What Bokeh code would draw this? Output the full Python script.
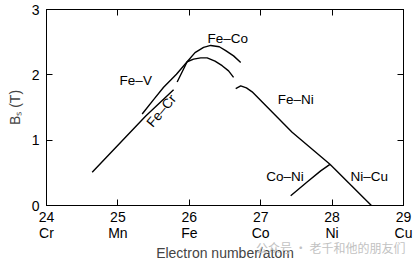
import math
from bokeh.plotting import figure
from bokeh.layouts import column
from bokeh.models import Range1d, FixedTicker, LinearAxis, Label, Div
from bokeh.embed import file_html
from bokeh.resources import INLINE

# ---- data ----
x_ticks = [24, 25, 26, 27, 28, 29]
x_tick_labels = ["24\nCr", "25\nMn", "26\nFe", "27\nCo", "28\nNi", "29\nCu"]
y_ticks = [0, 1, 2, 3]

fe_cr_x = [24.64, 25.39, 25.78]
fe_cr_y = [0.51, 1.37, 1.77]

fe_co_x = [25.83, 25.97, 26.08, 26.20, 26.30, 26.42, 26.51, 26.62, 26.72]
fe_co_y = [1.89, 2.20, 2.34, 2.42, 2.45, 2.43, 2.37, 2.29, 2.19]

fe_v_x = [25.34, 25.50, 25.64, 25.82, 25.97, 26.06, 26.16, 26.25, 26.36, 26.46, 26.55, 26.62]
fe_v_y = [1.40, 1.62, 1.81, 2.01, 2.20, 2.24, 2.26, 2.26, 2.21, 2.14, 2.06, 1.96]

fe_ni_x = [26.65, 26.72, 26.80, 26.88, 27.07, 27.44, 27.97]
fe_ni_y = [1.79, 1.83, 1.80, 1.74, 1.53, 1.12, 0.63]

ni_cu_x = [27.97, 28.55]
ni_cu_y = [0.63, 0.00]

co_ni_x = [27.42, 27.65, 27.84, 27.97]
co_ni_y = [0.15, 0.36, 0.53, 0.63]

FONT = "Liberation Sans"

p = figure(width=417, height=265, x_range=Range1d(24, 29), y_range=Range1d(0, 3),
           output_backend="svg", toolbar_location=None,
           min_border_left=46, min_border_right=14, min_border_top=9, min_border_bottom=60)
p.grid.visible = False
p.outline_line_color = "black"
p.outline_line_width = 1
p.background_fill_color = "white"
p.border_fill_color = "white"

# bottom axis
xa = p.xaxis[0]
xa.ticker = FixedTicker(ticks=x_ticks)
xa.major_label_overrides = {t: l for t, l in zip(x_ticks, x_tick_labels)}
xa.minor_tick_line_color = None
xa.major_tick_in = 6
xa.major_tick_out = 0
xa.major_label_standoff = 3
xa.major_label_text_font = FONT
xa.major_label_text_font_size = "14px"
xa.major_label_text_line_height = 1.0
xa.major_label_text_color = "black"
xa.axis_label = "Electron number/atom"
xa.axis_label_text_font = FONT
xa.axis_label_text_font_size = "14px"
xa.axis_label_text_font_style = "normal"
xa.axis_label_standoff = 1
xa.axis_line_color = "black"

# left axis
ya = p.yaxis[0]
ya.ticker = FixedTicker(ticks=y_ticks)
ya.minor_tick_line_color = None
ya.major_tick_in = 6
ya.major_tick_out = 0
ya.major_label_standoff = 7
ya.major_label_text_font = FONT
ya.major_label_text_font_size = "14px"
ya.major_label_text_color = "black"
ya.axis_line_color = "black"
ya.axis_label = "B\u209b (T)"
ya.axis_label_text_font = FONT
ya.axis_label_text_font_size = "14px"
ya.axis_label_text_font_style = "normal"
ya.axis_label_standoff = 6

# top and right axes (ticks only)
top = LinearAxis(ticker=FixedTicker(ticks=x_ticks), major_tick_in=6, major_tick_out=0,
                 minor_tick_line_color=None, major_label_standoff=0,
                 major_label_overrides={t: "" for t in x_ticks})
right = LinearAxis(ticker=FixedTicker(ticks=y_ticks), major_tick_in=6, major_tick_out=0,
                   minor_tick_line_color=None, major_label_standoff=0,
                   major_label_overrides={t: "" for t in y_ticks})
p.add_layout(top, "above")
p.add_layout(right, "right")

lw = 1.4
for xs, ys in [(fe_cr_x, fe_cr_y), (fe_co_x, fe_co_y), (fe_v_x, fe_v_y),
               (fe_ni_x, fe_ni_y), (ni_cu_x, ni_cu_y), (co_ni_x, co_ni_y)]:
    p.line(xs, ys, line_color="black", line_width=lw)

# curve labels
def lab(txt, x, y, angle=0.0):
    p.add_layout(Label(x=x, y=y, text=txt, text_font=FONT, text_font_size="13.5px",
                       text_align="center", text_baseline="middle", angle=angle,
                       text_color="black"))

lab("Fe\u2013V", 25.25, 1.91)
lab("Fe\u2013Cr", 25.61, 1.45, angle=math.radians(50))
lab("Fe\u2013Co", 26.54, 2.56)
lab("Fe\u2013Ni", 27.49, 1.62)
lab("Co\u2013Ni", 27.34, 0.44)
lab("Ni\u2013Cu", 28.52, 0.44)

# watermark (faint, bottom right), overlapping the plot's bottom border
wm = Div(text="公众号 · 老千和他的朋友们", width=155, height=16,
         margin=(-25, 0, 0, 256),
         styles={"color": "#c2c2c2", "font-size": "12px", "line-height": "16px",
                 "font-family": "Noto Sans CJK SC", "white-space": "nowrap"})

layout = column(p, wm, spacing=0)
open("out.html", "w").write(file_html(layout, INLINE))
